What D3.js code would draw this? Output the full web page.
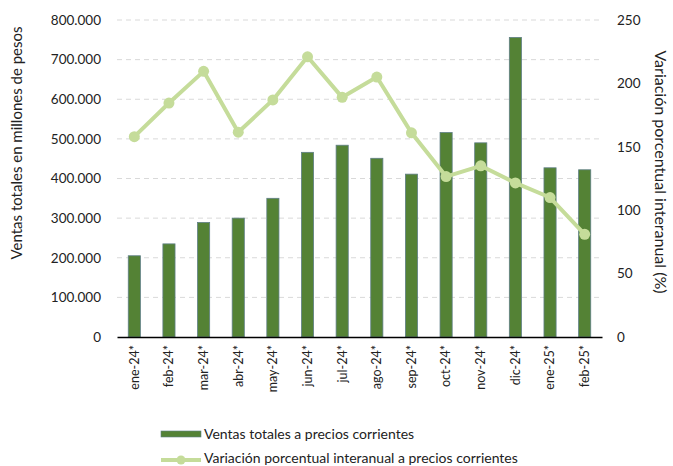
<!DOCTYPE html>
<html>
<head>
<meta charset="utf-8">
<script src="https://cdn.jsdelivr.net/npm/d3@7"></script>
<style>
  body { margin: 0; background: #fff; }
  text { font-family: Lato, "Open Sans", sans-serif; fill: #222; }
</style>
</head>
<body>
<svg id="chart" width="673" height="466"></svg>
<script>
const meses = ["ene-24*", "feb-24*", "mar-24*", "abr-24*", "may-24*", "jun-24*", "jul-24*",
  "ago-24*", "sep-24*", "oct-24*", "nov-24*", "dic-24*", "ene-25*", "feb-25*"];
const ventas = [205000, 235000, 289000, 300000, 350000, 466000, 484000,
  451000, 411000, 516000, 490000, 756000, 427000, 422000];
const variacion = [158, 184.5, 209.5, 161.5, 187, 221, 189, 205, 161, 126.5, 135, 121.5, 110, 81];
const ticksIzq = [0, 100000, 200000, 300000, 400000, 500000, 600000, 700000, 800000];
const ticksDer = [0, 50, 100, 150, 200, 250];

const svg = d3.select("#chart");
const mLeft = 117, mRight = 602, mTop = 20, mBottom = 337;

const x = d3.scaleBand().domain(meses).range([mLeft, mRight]).paddingInner(0.65).paddingOuter(0.325);
const yL = d3.scaleLinear().domain([0, 800000]).range([mBottom, mTop]);
const yR = d3.scaleLinear().domain([0, 250]).range([mBottom, mTop]);

const fmt = v => v === 0 ? "0" : d3.format(",")(v).replace(/,/g, ".");

// grid
svg.append("g").selectAll("line")
  .data(ticksIzq.slice(1))
  .join("line")
  .attr("x1", mLeft).attr("x2", mRight)
  .attr("y1", d => yL(d)).attr("y2", d => yL(d))
  .attr("stroke", "#d9d9d9").attr("stroke-width", 1)
  .attr("stroke-dasharray", "5,4");

// left axis
const axL = svg.append("g").attr("transform", `translate(${mLeft},0)`)
  .call(d3.axisLeft(yL).tickValues(ticksIzq).tickFormat(fmt).tickSize(0).tickPadding(16));
axL.select(".domain").remove();
axL.selectAll("text").style("font-size", "13.5px").attr("fill", "#222");

// right axis
const axR = svg.append("g").attr("transform", `translate(${mRight},0)`)
  .call(d3.axisRight(yR).tickValues(ticksDer).tickSize(0).tickPadding(15));
axR.select(".domain").remove();
axR.selectAll("text").style("font-size", "13.5px").attr("fill", "#222");

// bars
svg.append("g").selectAll("rect")
  .data(meses)
  .join("rect")
  .attr("x", d => x(d))
  .attr("y", (d, i) => yL(ventas[i]))
  .attr("width", x.bandwidth())
  .attr("height", (d, i) => mBottom - yL(ventas[i]))
  .attr("fill", "#548235")
  .attr("stroke", "#5f7f86")
  .attr("stroke-width", 0.8);

// bottom axis
const axB = svg.append("g").attr("transform", `translate(0,${mBottom})`)
  .call(d3.axisBottom(x).tickSize(0).tickPadding(8));
axB.select(".domain").attr("stroke", "#000").attr("stroke-width", 1.3);
axB.selectAll("text")
  .style("font-size", "12.5px")
  .attr("fill", "#222")
  .attr("text-anchor", "end")
  .attr("transform", "rotate(-90)")
  .attr("x", -8).attr("y", 0).attr("dy", "0.35em");

// line
const cx = (d, i) => x(meses[i]) + x.bandwidth() / 2;
const line = d3.line().x(cx).y(d => yR(d));
svg.append("path")
  .datum(variacion)
  .attr("d", line)
  .attr("fill", "none")
  .attr("stroke", "#c5dc9a")
  .attr("stroke-width", 4)
  .attr("stroke-linejoin", "round");
svg.append("g").selectAll("circle")
  .data(variacion)
  .join("circle")
  .attr("cx", cx)
  .attr("cy", d => yR(d))
  .attr("r", 5.5)
  .attr("fill", "#c5dc9a");

// axis titles
svg.append("text")
  .attr("transform", "translate(22,143) rotate(-90)")
  .attr("text-anchor", "middle")
  .style("font-size", "15px")
  .text("Ventas totales en millones de pesos");
svg.append("text")
  .attr("transform", "translate(655,172) rotate(90)")
  .attr("text-anchor", "middle")
  .style("font-size", "16px")
  .text("Variación porcentual interanual (%)");

// legend
const lg = svg.append("g");
lg.append("rect").attr("x", 161).attr("y", 431).attr("width", 40).attr("height", 6)
  .attr("fill", "#548235").attr("stroke", "#5f7f86").attr("stroke-width", 0.6);
lg.append("text").attr("x", 204).attr("y", 434).attr("dy", "0.35em")
  .style("font-size", "14px").text("Ventas totales a precios corrientes");
lg.append("line").attr("x1", 161).attr("x2", 201).attr("y1", 460).attr("y2", 460)
  .attr("stroke", "#c5dc9a").attr("stroke-width", 4);
lg.append("circle").attr("cx", 181).attr("cy", 460).attr("r", 4.5).attr("fill", "#c5dc9a");
lg.append("text").attr("x", 204).attr("y", 458).attr("dy", "0.35em")
  .style("font-size", "14px").text("Variación porcentual interanual a precios corrientes");
</script>
</body>
</html>
